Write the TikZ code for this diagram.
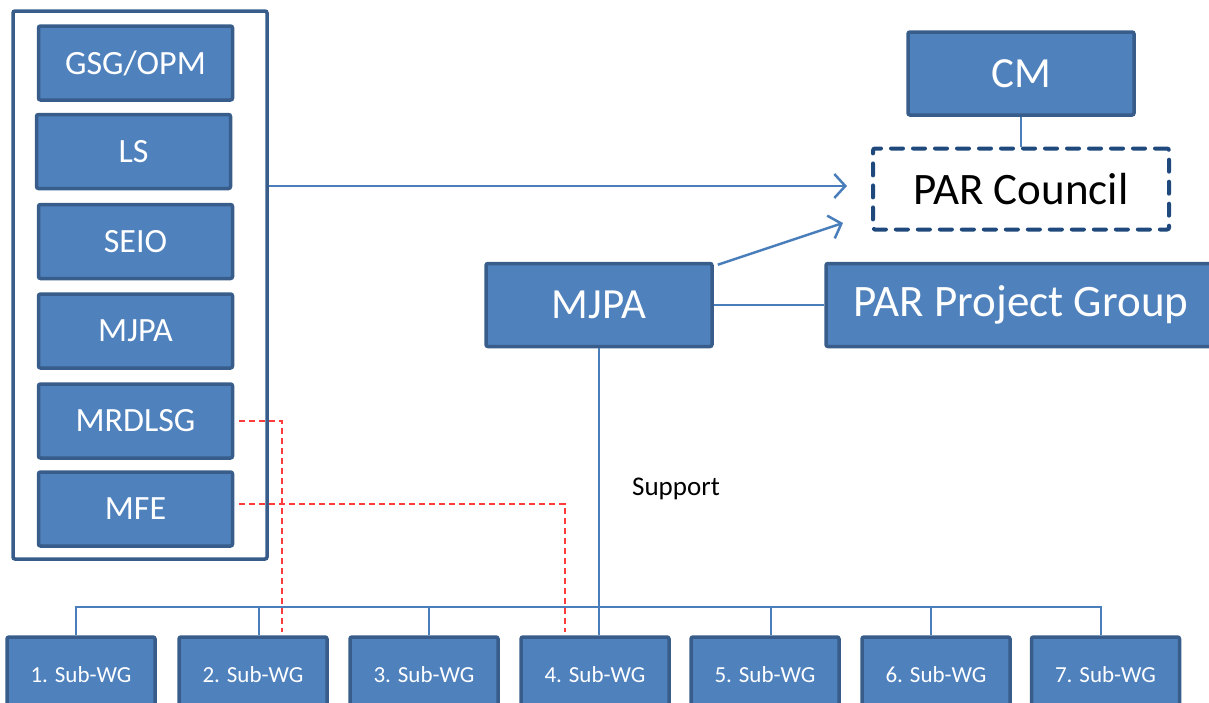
\documentclass[tikz,border=0pt]{standalone}
\usepackage{fontspec}
\setmainfont{Carlito}
\usetikzlibrary{arrows.meta,calc}
\definecolor{boxfill}{HTML}{4F81BD}
\definecolor{boxline}{HTML}{385D8A}
\definecolor{conline}{HTML}{4A7EBB}
\definecolor{dashline}{HTML}{1F497D}
\definecolor{redline}{HTML}{FF3B3B}
\tikzset{
  bluebox/.style={draw=boxline, fill=boxfill, line width=3.5pt, rounded corners=2pt,
    text=white, inner sep=0pt, anchor=center},
  leftbox/.style={bluebox, minimum width=194pt, minimum height=74pt,
    font=\fontsize{34}{40}\selectfont},
  bigbox/.style={bluebox, minimum height=83pt, font=\fontsize{43}{50}\selectfont},
  subbox/.style={bluebox, minimum width=148pt, minimum height=76pt,
    font=\fontsize{23}{28}\selectfont},
  groupbox/.style={draw=boxline, line width=3.5pt, rounded corners=2pt, inner sep=0pt},
  councilbox/.style={draw=dashline, line width=4pt, dash pattern=on 12pt off 10pt,
    line cap=round, rounded corners=2pt, minimum width=296pt, minimum height=81pt,
    font=\fontsize{45}{52}\selectfont, text=black},
  conn/.style={draw=conline, line width=2.5pt},
  thin conn/.style={draw=conline, line width=2pt},
  arr/.style={conn, -{Straight Barb[length=11pt,width=24pt,line width=2.5pt]}},
  reddash/.style={draw=redline, line width=1.6pt, dash pattern=on 6pt off 4pt},
  lbl/.style={font=\fontsize{27}{32}\selectfont, text=black}
}
\begin{document}
\begin{tikzpicture}[x=1pt,y=-1pt]
\useasboundingbox (0,0) rectangle (1209,702);
% left group
\node[groupbox, minimum width=254pt, minimum height=548pt] (grp) at (140,285) {};
\node[leftbox] (gsg) at (135.5,63) {GSG/OPM};
\node[leftbox] (ls) at (133.5,151.5) {LS};
\node[leftbox] (seio) at (135.5,241.5) {SEIO};
\node[leftbox] (mjpal) at (135.5,331) {MJPA};
\node[leftbox] (mrdlsg) at (135.5,421) {MRDLSG};
\node[leftbox] (mfe) at (135.5,509) {MFE};
% right top
\node[bigbox, minimum width=226pt] (cm) at (1021,73.5) {CM};
\node[councilbox] (pc) at (1021,189) {PAR Council};
\node[bigbox, minimum width=226pt] (mjpa) at (599,305) {MJPA};
\node[bigbox, minimum width=390pt, font=\fontsize{45}{52}\selectfont] (ppg) at (1021,305) {PAR Project Group};
% sub working groups
\node[subbox] (s1) at (81,675) {1. Sub-WG};
\node[subbox] (s2) at (253,675) {2. Sub-WG};
\node[subbox] (s3) at (424,675) {3. Sub-WG};
\node[subbox] (s4) at (595,675) {4. Sub-WG};
\node[subbox] (s5) at (765,675) {5. Sub-WG};
\node[subbox] (s6) at (936,675) {6. Sub-WG};
\node[subbox] (s7) at (1105.5,675) {7. Sub-WG};
\node[lbl] (sup) at (676,489) {Support};
\coordinate (bus) at (599,607);
\coordinate (r1) at (282,632);
\coordinate (r2) at (565,632);
\foreach \n/\dx in {1/-5,2/6,3/5,4/4,5/6,6/-5,7/-4.5}{
  \coordinate (t\n) at ($(s\n.north)+(\dx,0)$);
}
% connectors
\draw[arr, shorten >=24pt] (grp.east |- 0,186) -- (pc.west |- 0,186);
\draw[arr] ($(mjpa.north east)+(4,3)$) -- ($(pc.west)+(-28,34)$);
\draw[conn] (mjpa.east) -- (ppg.west);
\draw[conn] (cm.south) -- (pc.north);
\draw[conn] (mjpa.south) -- (mjpa.south |- bus);
\draw[thin conn] (t1) |- (bus) -| (t7);
\foreach \n in {2,3,4,5,6}{
  \draw[thin conn] (t\n) -- (t\n |- bus);
}
\draw[reddash] ($(mrdlsg.east)+(5,0)$) -| (r1);
\draw[reddash] ($(mfe.east)+(5,-5)$) -| (r2);
\end{tikzpicture}
\end{document}
